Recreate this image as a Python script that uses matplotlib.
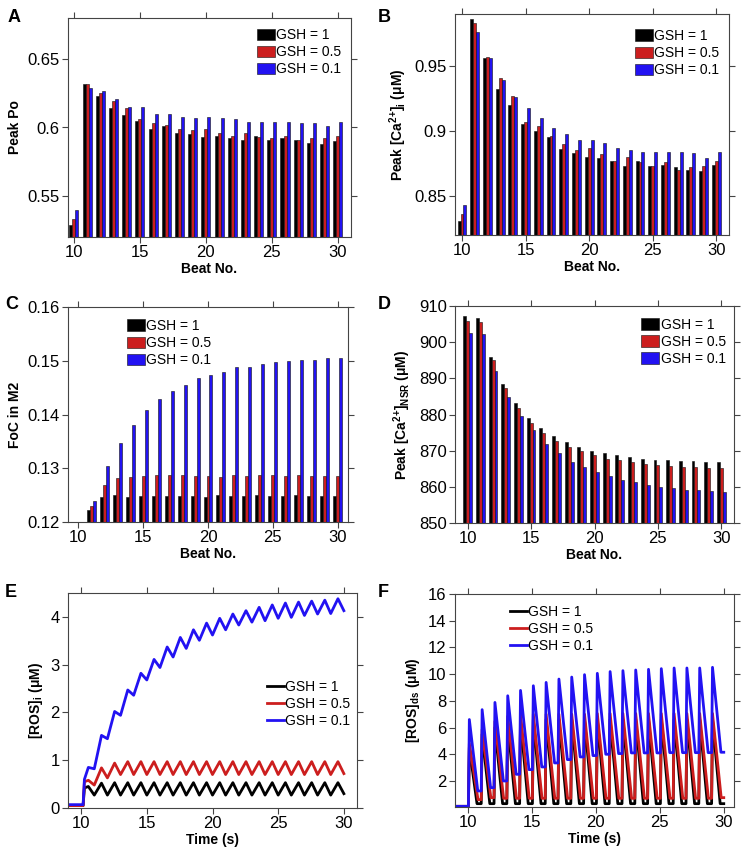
import numpy as np
import matplotlib
matplotlib.use('Agg')
import matplotlib.pyplot as plt
from matplotlib.ticker import FormatStrFormatter

plt.rcParams['font.family'] = 'Liberation Sans'
plt.rcParams['mathtext.fontset'] = 'custom'
plt.rcParams['mathtext.rm'] = 'Liberation Sans:bold'
plt.rcParams['mathtext.bf'] = 'Liberation Sans:bold'
plt.rcParams['mathtext.default'] = 'bf'

# ---- data ----
beats = list(range(10, 31))
labels = ['GSH = 1', 'GSH = 0.5', 'GSH = 0.1']
colors = ['#000000', '#cc1e1e', '#2212f2']

# A: peak Po
po_1 = [0.529, 0.632, 0.623, 0.614, 0.609, 0.605, 0.599, 0.601, 0.596, 0.595, 0.593,
        0.594, 0.592, 0.591, 0.594, 0.591, 0.592, 0.591, 0.589, 0.588, 0.590]
po_05 = [0.533, 0.632, 0.625, 0.619, 0.614, 0.606, 0.603, 0.602, 0.599, 0.598, 0.599,
         0.596, 0.594, 0.596, 0.593, 0.592, 0.594, 0.591, 0.592, 0.592, 0.594]
po_01 = [0.540, 0.629, 0.627, 0.621, 0.615, 0.615, 0.610, 0.610, 0.608, 0.607, 0.608,
         0.607, 0.606, 0.604, 0.604, 0.604, 0.604, 0.603, 0.603, 0.601, 0.604]

# B: peak [Ca2+]i
cai_1 = [0.831, 0.986, 0.956, 0.932, 0.920, 0.905, 0.900, 0.895, 0.886, 0.883, 0.880,
         0.879, 0.877, 0.873, 0.877, 0.873, 0.874, 0.872, 0.870, 0.869, 0.874]
cai_05 = [0.836, 0.983, 0.957, 0.941, 0.927, 0.907, 0.904, 0.896, 0.890, 0.885, 0.887,
          0.882, 0.877, 0.880, 0.876, 0.873, 0.876, 0.870, 0.872, 0.873, 0.877]
cai_01 = [0.843, 0.976, 0.956, 0.939, 0.926, 0.918, 0.910, 0.902, 0.898, 0.893, 0.893,
          0.891, 0.887, 0.885, 0.884, 0.884, 0.884, 0.884, 0.883, 0.879, 0.884]

# C: FoC in M2
foc_1 = [0.1200, 0.1223, 0.1247, 0.1250, 0.1247, 0.1248, 0.1248, 0.1249, 0.1249, 0.1249, 0.1247,
         0.1250, 0.1249, 0.1249, 0.1250, 0.1248, 0.1248, 0.1250, 0.1249, 0.1248, 0.1249]
foc_05 = [0.1200, 0.1229, 0.1268, 0.1281, 0.1284, 0.1286, 0.1287, 0.1288, 0.1287, 0.1286, 0.1286,
          0.1284, 0.1287, 0.1285, 0.1287, 0.1287, 0.1286, 0.1288, 0.1286, 0.1286, 0.1286]
foc_01 = [0.1200, 0.1240, 0.1305, 0.1347, 0.1381, 0.1408, 0.1429, 0.1443, 0.1455, 0.1467, 0.1473,
          0.1480, 0.1488, 0.1489, 0.1494, 0.1498, 0.1500, 0.1502, 0.1502, 0.1505, 0.1505]

# D: peak [Ca2+]NSR
nsr_1 = [907.1, 906.8, 895.9, 888.3, 883.2, 879.1, 876.3, 874.0, 872.3, 871.0, 870.0,
         869.3, 868.7, 868.2, 867.8, 867.5, 867.3, 867.2, 867.1, 867.0, 866.9]
nsr_05 = [905.9, 905.5, 895.0, 887.4, 881.8, 877.7, 875.0, 872.6, 870.9, 869.8, 868.7,
          867.8, 867.3, 866.8, 866.3, 866.1, 865.8, 865.6, 865.4, 865.3, 865.2]
nsr_01 = [902.4, 902.2, 892.1, 884.9, 879.6, 875.6, 871.8, 869.3, 867.0, 865.6, 864.1,
          862.9, 862.0, 861.2, 860.5, 860.0, 859.7, 859.2, 859.0, 858.9, 858.7]

# E: [ROS]i, per-beat peak (mid-beat) and trough (end of beat) values, beats 10..29
pulse_beats = list(range(10, 30))
rosi_base = [0.05, 0.05, 0.07]
rosi_jump = [0.42, 0.55, 0.60]
rosi_peak_1 = [0.45, 0.52, 0.53, 0.53, 0.53, 0.53, 0.53, 0.53, 0.53, 0.53,
               0.53, 0.53, 0.53, 0.53, 0.53, 0.53, 0.53, 0.53, 0.53, 0.53]
rosi_trough_1 = [0.27, 0.27, 0.27, 0.27, 0.27, 0.27, 0.27, 0.27, 0.27, 0.27,
                 0.27, 0.27, 0.27, 0.27, 0.27, 0.27, 0.27, 0.27, 0.27, 0.30]
rosi_peak_05 = [0.58, 0.84, 0.94, 0.97, 0.97, 0.97, 0.97, 0.97, 0.97, 0.97,
                0.97, 0.97, 0.97, 0.97, 0.97, 0.97, 0.97, 0.97, 0.97, 0.97]
rosi_trough_05 = [0.48, 0.63, 0.70, 0.70, 0.70, 0.70, 0.70, 0.70, 0.70, 0.70,
                  0.70, 0.70, 0.70, 0.70, 0.70, 0.70, 0.70, 0.70, 0.70, 0.72]
rosi_peak_01 = [0.85, 1.52, 2.02, 2.47, 2.82, 3.11, 3.37, 3.57, 3.73, 3.87,
                3.97, 4.06, 4.13, 4.20, 4.25, 4.29, 4.31, 4.33, 4.35, 4.38]
rosi_trough_01 = [0.82, 1.45, 1.94, 2.36, 2.68, 2.94, 3.16, 3.34, 3.51, 3.62,
                  3.73, 3.83, 3.89, 3.92, 3.97, 3.99, 4.03, 4.06, 4.07, 4.13]

# F: [ROS]ds, per-beat peak (just after beat) and trough values, beats 10..29
rosds_base = [0.1, 0.1, 0.1]
rosds_peak_1 = [4.5, 5.5, 6.0, 6.3, 6.5, 6.6, 6.6, 6.6, 6.6, 6.6,
                6.6, 6.6, 6.6, 6.6, 6.6, 6.6, 6.6, 6.6, 6.6, 6.6]
rosds_trough_1 = [0.3, 0.3, 0.3, 0.3, 0.3, 0.3, 0.3, 0.3, 0.3, 0.3,
                  0.3, 0.3, 0.3, 0.3, 0.3, 0.3, 0.3, 0.3, 0.3, 0.3]
rosds_peak_05 = [4.8, 5.85, 6.46, 6.84, 7.0, 7.0, 7.0, 7.0, 7.0, 7.0,
                 7.05, 7.05, 7.05, 7.05, 7.05, 7.05, 7.05, 7.05, 7.05, 7.05]
rosds_trough_05 = [0.6, 0.75, 0.7, 0.7, 0.7, 0.7, 0.7, 0.7, 0.7, 0.7,
                   0.7, 0.7, 0.7, 0.7, 0.7, 0.7, 0.7, 0.7, 0.7, 0.75]
rosds_peak_01 = [6.6, 7.34, 7.88, 8.38, 8.78, 9.13, 9.38, 9.63, 9.78, 9.96,
                 10.06, 10.19, 10.26, 10.31, 10.36, 10.41, 10.46, 10.46, 10.46, 10.51]
rosds_trough_01 = [1.25, 1.5, 2.0, 2.5, 2.85, 3.05, 3.35, 3.6, 3.8, 3.9,
                   4.0, 4.05, 4.1, 4.1, 4.1, 4.12, 4.12, 4.12, 4.12, 4.15]

W, H = 744, 855
fig = plt.figure(figsize=(W / 100, H / 100), dpi=100)


def make_ax(left, right, top, bottom):
    return fig.add_axes([left / W, 1 - bottom / H, (right - left) / W, (bottom - top) / H])


def style(ax):
    for s in ax.spines.values():
        s.set_color('#444444')
        s.set_linewidth(0.8)
    ax.tick_params(direction='out', length=4, width=0.8, color='#444444',
                   top=True, right=True, labelsize=12, pad=2)
    ax.set_xticks([10, 15, 20, 25, 30])


def bars(ax, series):
    x = np.array(beats)
    for k, (vals, off) in enumerate(zip(series, [-0.23, 0, 0.23])):
        ax.bar(x + off, vals, width=0.23, color=colors[k], edgecolor='#111111',
               linewidth=0.4, label=labels[k])


def bar_legend(ax, x, y):
    ax.legend(loc='upper left', bbox_to_anchor=(x, y), frameon=False, fontsize=10,
              handlelength=1.3, handleheight=0.9, handletextpad=0.1,
              labelspacing=0.22, borderpad=0, borderaxespad=0)


def line_legend(ax, x, y):
    ax.legend(loc='upper left', bbox_to_anchor=(x, y), frameon=False, fontsize=10,
              handlelength=1.2, handletextpad=0.1, labelspacing=0.22,
              borderpad=0, borderaxespad=0)


# A
ax = make_ax(68, 351, 18, 237)
bars(ax, [po_1, po_05, po_01])
ax.set_xlim(9.55, 31)
ax.set_ylim(0.52, 0.68)
ax.set_yticks([0.55, 0.6, 0.65])
ax.yaxis.set_major_formatter(FormatStrFormatter('%g'))
style(ax)
ax.set_xlabel('Beat No.', fontsize=10, fontweight='bold', labelpad=1)
ax.set_ylabel('Peak Po', fontsize=10, fontweight='bold')
bar_legend(ax, 0.668, 0.954)
fig.text(8 / W, 1 - 22 / H, 'A', fontsize=13, fontweight='bold')

# B
ax = make_ax(455, 729, 14, 235)
bars(ax, [cai_1, cai_05, cai_01])
ax.set_xlim(9.45, 31)
ax.set_ylim(0.82, 0.99)
ax.set_yticks([0.85, 0.9, 0.95])
ax.yaxis.set_major_formatter(FormatStrFormatter('%g'))
style(ax)
ax.set_xlabel('Beat No.', fontsize=10, fontweight='bold', labelpad=1)
ax.set_ylabel(r'Peak [Ca$^{2{+}}$]$_{i}$ ($\mu$M)', fontsize=10, fontweight='bold')
bar_legend(ax, 0.657, 0.932)
fig.text(378 / W, 1 - 22 / H, 'B', fontsize=13, fontweight='bold')

# C
ax = make_ax(68, 348, 307, 522)
bars(ax, [foc_1, foc_05, foc_01])
ax.set_xlim(9.2, 30.8)
ax.set_ylim(0.12, 0.16)
ax.set_yticks([0.12, 0.13, 0.14, 0.15, 0.16])
ax.yaxis.set_major_formatter(FormatStrFormatter('%.2f'))
style(ax)
ax.set_xlabel('Beat No.', fontsize=10, fontweight='bold', labelpad=1)
ax.set_ylabel('FoC in M2', fontsize=10, fontweight='bold')
bar_legend(ax, 0.21, 0.944)
fig.text(5 / W, 1 - 309 / H, 'C', fontsize=13, fontweight='bold')

# D
ax = make_ax(455, 734, 306, 523)
bars(ax, [nsr_1, nsr_05, nsr_01])
ax.set_xlim(9.0, 31.0)
ax.set_ylim(850, 910)
ax.set_yticks(range(850, 911, 10))
style(ax)
ax.set_xlabel('Beat No.', fontsize=10, fontweight='bold', labelpad=1)
ax.set_ylabel(r'Peak [Ca$^{2{+}}$]$_{NSR}$ ($\mu$M)', fontsize=10, fontweight='bold')
bar_legend(ax, 0.667, 0.945)
fig.text(378 / W, 1 - 309 / H, 'D', fontsize=13, fontweight='bold')


# E
def ros_i_trace(k, peaks, troughs):
    t = [9.0, 10.15, 10.25]
    y = [rosi_base[k], rosi_base[k], rosi_jump[k]]
    for n, p, q in zip(pulse_beats, peaks, troughs):
        t += [n + 0.55, n + 1.0]
        y += [p, q]
    return t, y


ax = make_ax(68, 357, 593, 808)
for k, (pk, tr) in enumerate([(rosi_peak_1, rosi_trough_1), (rosi_peak_05, rosi_trough_05),
                              (rosi_peak_01, rosi_trough_01)]):
    t, y = ros_i_trace(k, pk, tr)
    ax.plot(t, y, color=colors[k], lw=2, label=labels[k])
ax.set_xlim(9, 31)
ax.set_ylim(0, 4.5)
ax.set_yticks([0, 1, 2, 3, 4])
style(ax)
ax.set_xlabel('Time (s)', fontsize=10, fontweight='bold', labelpad=1)
ax.set_ylabel(r'[ROS]$_{i}$ ($\mu$M)', fontsize=10, fontweight='bold')
line_legend(ax, 0.69, 0.595)
fig.text(5 / W, 1 - 597 / H, 'E', fontsize=13, fontweight='bold')


# F
def ros_ds_trace(k, peaks, troughs, fall):
    t = [9.0, 10.05]
    y = [rosds_base[k], rosds_base[k]]
    prev = rosds_base[k]
    for n, p, q in zip(pulse_beats, peaks, troughs):
        t += [n + 0.05, n + 0.12, n + fall, n + 1.05]
        y += [prev, p, q, q]
        prev = q
    t[-1] = 30.0
    return t, y


ax = make_ax(455, 734, 594, 807)
for k, (pk, tr, fall) in enumerate([(rosds_peak_1, rosds_trough_1, 0.72),
                                    (rosds_peak_05, rosds_trough_05, 0.8),
                                    (rosds_peak_01, rosds_trough_01, 0.78)]):
    t, y = ros_ds_trace(k, pk, tr, fall)
    ax.plot(t, y, color=colors[k], lw=2, label=labels[k])
ax.set_xlim(9, 30.8)
ax.set_ylim(0.05, 16)
ax.set_yticks(range(2, 17, 2))
style(ax)
ax.set_xlabel('Time (s)', fontsize=10, fontweight='bold', labelpad=1)
ax.set_ylabel(r'[ROS]$_{ds}$ ($\mu$M)', fontsize=10, fontweight='bold')
line_legend(ax, 0.197, 0.95)
fig.text(378 / W, 1 - 597 / H, 'F', fontsize=13, fontweight='bold')

fig.savefig('out.png', dpi=100)
